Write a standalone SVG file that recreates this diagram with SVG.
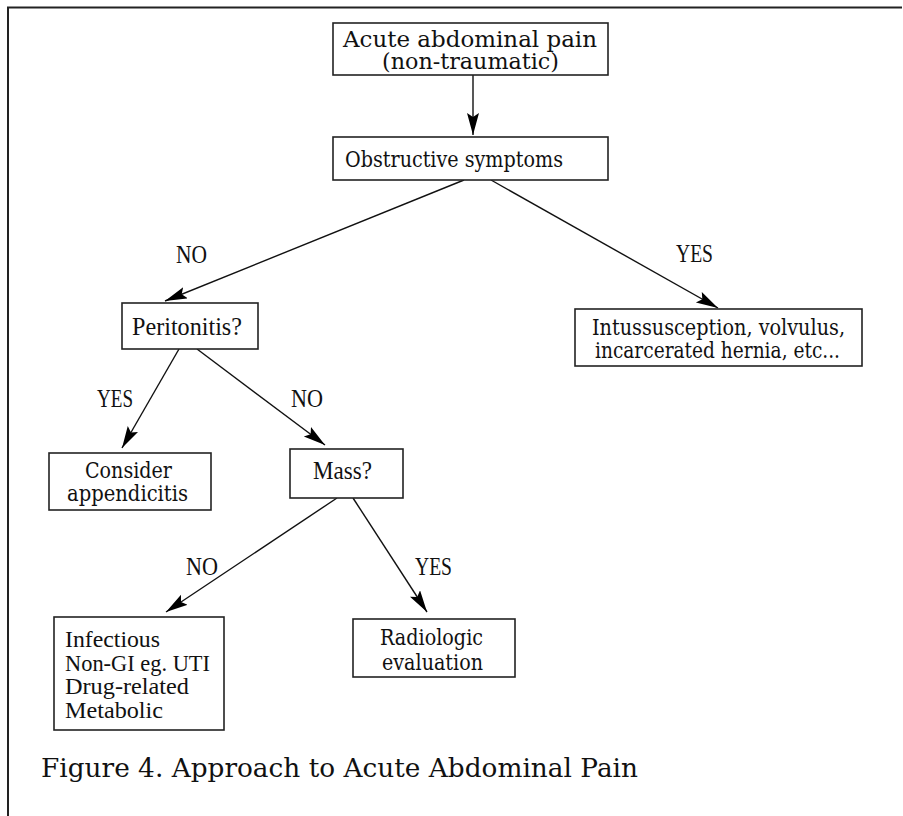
<svg xmlns="http://www.w3.org/2000/svg" width="903" height="816" viewBox="0 0 903 816">
<style>
.box{fill:#fff;stroke:#222;stroke-width:1.6}
.lb{font-family:"DejaVu Serif","Liberation Serif",serif;font-size:23px;fill:#111}
.tm{font-family:"Liberation Serif","Times New Roman",serif;font-size:25.5px;fill:#111}
.tms{font-family:"Liberation Serif","Times New Roman",serif;font-size:24px;fill:#111}
.cap{font-family:"DejaVu Serif","Liberation Serif",serif;font-size:26px;fill:#111}
.edge{stroke:#111;stroke-width:1.4;fill:none;marker-end:url(#ah)}
</style>
<defs>
<marker id="ah" markerUnits="userSpaceOnUse" markerWidth="24" markerHeight="14" refX="22" refY="6" orient="auto">
<path d="M0,0 L22,6 L0,12 L4,6 z" fill="#000"/>
</marker>
</defs>
<rect width="903" height="816" fill="#fff"/>
<g id="frame" stroke="#222" stroke-width="2" fill="none">
<line x1="7" y1="7.5" x2="902" y2="7.5"/>
<line x1="8" y1="7" x2="8" y2="816"/>
</g>
<g id="connectors">
<line class="edge" x1="473" y1="75" x2="473" y2="135"/>
<line class="edge" x1="464" y1="180" x2="165" y2="301"/>
<line class="edge" x1="491" y1="180" x2="718" y2="308"/>
<line class="edge" x1="179" y1="349" x2="122" y2="448"/>
<line class="edge" x1="197" y1="349" x2="325" y2="445"/>
<line class="edge" x1="337" y1="498" x2="166" y2="612"/>
<line class="edge" x1="353" y1="498" x2="427" y2="612"/>
<text class="tm" x="176" y="263" textLength="31" lengthAdjust="spacingAndGlyphs">NO</text>
<text class="tm" x="676" y="262" textLength="37" lengthAdjust="spacingAndGlyphs">YES</text>
<text class="tm" x="97" y="407" textLength="36" lengthAdjust="spacingAndGlyphs">YES</text>
<text class="tm" x="291" y="407" textLength="32" lengthAdjust="spacingAndGlyphs">NO</text>
<text class="tm" x="186" y="575" textLength="32" lengthAdjust="spacingAndGlyphs">NO</text>
<text class="tm" x="415" y="575" textLength="37" lengthAdjust="spacingAndGlyphs">YES</text>
</g>
<g id="n_acute">
<rect class="box" x="333" y="23" width="275" height="52"/>
<text class="lb" x="343" y="47" textLength="254" lengthAdjust="spacingAndGlyphs">Acute abdominal pain</text>
<text class="lb" x="382" y="69" textLength="177" lengthAdjust="spacingAndGlyphs">(non-traumatic)</text>
</g>
<g id="n_obstructive">
<rect class="box" x="333" y="137" width="275" height="43"/>
<text class="lb" x="345" y="167" textLength="218" lengthAdjust="spacingAndGlyphs">Obstructive symptoms</text>
</g>
<g id="n_peritonitis">
<rect class="box" x="122" y="303" width="136" height="46"/>
<text class="tm" x="132" y="335" textLength="110" lengthAdjust="spacingAndGlyphs">Peritonitis?</text>
</g>
<g id="n_intussusception">
<rect class="box" x="575" y="309" width="287" height="57"/>
<text class="lb" x="592" y="335" textLength="253" lengthAdjust="spacingAndGlyphs">Intussusception, volvulus,</text>
<text class="lb" x="595" y="358" textLength="245" lengthAdjust="spacingAndGlyphs">incarcerated hernia, etc...</text>
</g>
<g id="n_appendicitis">
<rect class="box" x="49" y="453" width="162" height="57"/>
<text class="lb" x="85" y="478" textLength="87" lengthAdjust="spacingAndGlyphs">Consider</text>
<text class="lb" x="67" y="501" textLength="121" lengthAdjust="spacingAndGlyphs">appendicitis</text>
</g>
<g id="n_mass">
<rect class="box" x="290" y="449" width="113" height="49"/>
<text class="tm" x="313" y="479" textLength="59" lengthAdjust="spacingAndGlyphs">Mass?</text>
</g>
<g id="n_infectious">
<rect class="box" x="54" y="617" width="170" height="113"/>
<text class="tms" x="65" y="647" textLength="95" lengthAdjust="spacingAndGlyphs">Infectious</text>
<text class="tms" x="65" y="671" textLength="145" lengthAdjust="spacingAndGlyphs">Non-GI eg. UTI</text>
<text class="tms" x="65" y="694" textLength="124" lengthAdjust="spacingAndGlyphs">Drug-related</text>
<text class="tms" x="65" y="718" textLength="98" lengthAdjust="spacingAndGlyphs">Metabolic</text>
</g>
<g id="n_radiologic">
<rect class="box" x="353" y="619" width="162" height="58"/>
<text class="lb" x="380" y="645" textLength="103" lengthAdjust="spacingAndGlyphs">Radiologic</text>
<text class="lb" x="382" y="670" textLength="101" lengthAdjust="spacingAndGlyphs">evaluation</text>
</g>
<g id="caption">
<text class="cap" x="41" y="777" textLength="597" lengthAdjust="spacingAndGlyphs">Figure 4. Approach to Acute Abdominal Pain</text>
</g>
</svg>
